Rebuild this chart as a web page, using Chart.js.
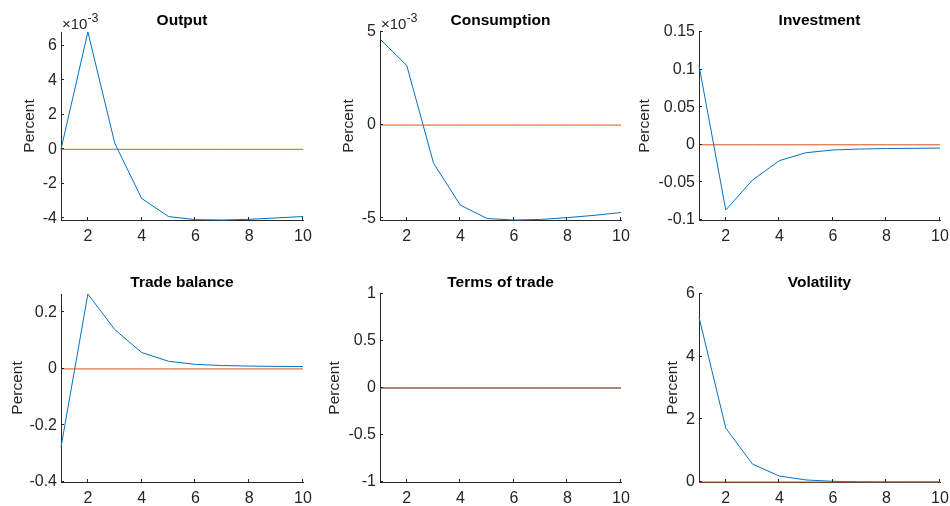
<!DOCTYPE html>
<html>
<head>
<meta charset="utf-8">
<script src="https://cdn.jsdelivr.net/npm/chart.js@4.4.0/dist/chart.umd.min.js"></script>
<style>
html,body{margin:0;padding:0;background:#ffffff;width:950px;height:506px;overflow:hidden;}
canvas{position:absolute;display:block;}
</style>
</head>
<body>
<canvas id="c1" width="320" height="253" style="left:0px;top:0px;width:320px;height:253px"></canvas>
<canvas id="c2" width="320" height="253" style="left:320px;top:0px;width:320px;height:253px"></canvas>
<canvas id="c3" width="320" height="253" style="left:630px;top:0px;width:320px;height:253px"></canvas>
<canvas id="c4" width="320" height="244" style="left:0px;top:262px;width:320px;height:244px"></canvas>
<canvas id="c5" width="320" height="244" style="left:320px;top:262px;width:320px;height:244px"></canvas>
<canvas id="c6" width="320" height="244" style="left:630px;top:262px;width:320px;height:244px"></canvas>
<script>
// ---------- data ----------
const periods = [1, 2, 3, 4, 5, 6, 7, 8, 9, 10];
const xTickValues = [2, 4, 6, 8, 10];
const panelTitles = ['Output', 'Consumption', 'Investment', 'Trade balance', 'Terms of trade', 'Volatility'];
const yAxisLabel = 'Percent';

const outputIRF      = [0, 0.0068, 0.00035, -0.00285, -0.0039, -0.00408, -0.0041, -0.00406, -0.00398, -0.0039];
const consumptionIRF = [0.00462, 0.0032, -0.00205, -0.0043, -0.00502, -0.0051, -0.00507, -0.00497, -0.00485, -0.0047];
const investmentIRF  = [0.1055, -0.0867, -0.0468, -0.0211, -0.0105, -0.0069, -0.0056, -0.005, -0.0047, -0.0043];
const tradeBalanceIRF = [-0.277, 0.265, 0.139, 0.058, 0.027, 0.016, 0.012, 0.010, 0.009, 0.0085];
const termsOfTradeIRF = [0, 0, 0, 0, 0, 0, 0, 0, 0, 0];
const volatilityIRF  = [5.26, 1.72, 0.57, 0.19, 0.065, 0.022, 0.0075, 0.0025, 0.0008, 0.0003];
const zeroLine       = [0, 0, 0, 0, 0, 0, 0, 0, 0, 0];

const yTicksOutput      = [-0.004, -0.002, 0, 0.002, 0.004, 0.006];
const yTicksConsumption = [-0.005, 0, 0.005];
const yTicksInvestment  = [-0.1, -0.05, 0, 0.05, 0.1, 0.15];
const yTicksTrade       = [-0.4, -0.2, 0, 0.2];
const yTicksTerms       = [-1, -0.5, 0, 0.5, 1];
const yTicksVolatility  = [0, 2, 4, 6];

const yLimOutput      = [-0.0041, 0.0068];
const yLimConsumption = [-0.0051, 0.005];
const yLimInvestment  = [-0.1, 0.15];
const yLimTrade       = [-0.4, 0.265];
const yLimTerms       = [-1, 1];
const yLimVolatility  = [0, 6];

// ---------- style / layout ----------
const FONT = '"Liberation Sans", Arial, Helvetica, sans-serif';
const AX = '#262626';
const BLUE = '#0072BD';
const ORANGE = '#D95319';
Chart.defaults.font.family = FONT;

const matlabAxes = {
  id: 'matlabAxes',
  afterDatasetsDraw(chart, args, opts) {
    const {ctx, chartArea: a} = chart;
    const xs = chart.scales.x, ys = chart.scales.y;
    ctx.save();
    ctx.strokeStyle = AX;
    ctx.lineWidth = 1;
    ctx.beginPath();
    xs.ticks.forEach(t => {
      const px = Math.round(xs.getPixelForValue(t.value)) - 0.5;
      ctx.moveTo(px, a.bottom);
      ctx.lineTo(px, a.bottom - 3);
    });
    ys.ticks.forEach(t => {
      const py = Math.round(ys.getPixelForValue(t.value)) - 0.5;
      ctx.moveTo(a.left, py);
      ctx.lineTo(a.left + 3, py);
    });
    ctx.stroke();
    if (opts.exponent) {
      ctx.fillStyle = AX;
      ctx.textBaseline = 'alphabetic';
      ctx.textAlign = 'left';
      ctx.font = '15px ' + FONT;
      const base = '\u00D710';
      ctx.fillText(base, a.left + 1, a.top - 3.5);
      const w = ctx.measureText(base).width;
      ctx.font = '12.5px ' + FONT;
      ctx.fillText(opts.exponent, a.left + 1 + w, a.top - 10.5);
    }
    ctx.restore();
  }
};

function fmt(v, factor) {
  return String(+(v * factor).toFixed(6));
}

function makePanel(id, title, values, yTicks, yLim, opt) {
  const factor = opt.exponent ? 1000 : 1;
  new Chart(document.getElementById(id), {
    type: 'line',
    data: {
      datasets: [
        {data: periods.map((p, i) => ({x: p, y: zeroLine[i]})), borderColor: ORANGE, borderWidth: 1, pointRadius: 0, tension: 0, clip: 2},
        {data: periods.map((p, i) => ({x: p, y: values[i]})), borderColor: BLUE, borderWidth: 1, pointRadius: 0, tension: 0, clip: 2}
      ]
    },
    options: {
      responsive: false,
      animation: false,
      devicePixelRatio: 1,
      events: [],
      layout: {padding: {left: 0, right: opt.padRight, top: 0, bottom: 0}},
      plugins: {
        legend: {display: false},
        tooltip: {enabled: false},
        title: {
          display: true, text: title, fullSize: false, color: '#000000',
          font: {family: FONT, size: 15.5, weight: 'bold', lineHeight: 1.2},
          padding: {top: 11.3, bottom: 2.1}
        },
        matlabAxes: {exponent: opt.exponent || null}
      },
      scales: {
        x: {
          type: 'linear', min: 1, max: 10,
          afterBuildTicks: s => { s.ticks = xTickValues.map(v => ({value: v})); },
          afterFit: s => { s.height = opt.xHeight; s.paddingLeft = 0; s.paddingRight = 0; },
          grid: {display: true, drawOnChartArea: false, drawTicks: false},
          border: {display: true, color: AX, width: 1},
          ticks: {color: AX, font: {family: FONT, size: 16, lineHeight: 1.2}, padding: 6.6, maxRotation: 0, autoSkip: false,
                  callback: v => String(v)}
        },
        y: {
          type: 'linear', min: yLim[0], max: yLim[1],
          afterBuildTicks: s => { s.ticks = yTicks.map(v => ({value: v})); },
          afterFit: s => { s.width = opt.yWidth; s.paddingTop = 0; s.paddingBottom = 0; },
          grid: {display: true, drawOnChartArea: false, drawTicks: false},
          border: {display: true, color: AX, width: 1},
          ticks: {color: AX, font: {family: FONT, size: 16}, padding: 4, autoSkip: false,
                  callback: v => fmt(v, factor)},
          title: {display: true, text: yAxisLabel, color: AX, font: {family: FONT, size: 15.5, lineHeight: 1.2},
                  padding: {top: opt.titlePad, bottom: 0}}
        }
      }
    },
    plugins: [matlabAxes]
  });
}

makePanel('c1', panelTitles[0], outputIRF, yTicksOutput, yLimOutput,
  {exponent: '-3', yWidth: 61, padRight: 17, xHeight: 33, titlePad: 20.5});
makePanel('c2', panelTitles[1], consumptionIRF, yTicksConsumption, yLimConsumption,
  {exponent: '-3', yWidth: 60, padRight: 19, xHeight: 33, titlePad: 19});
makePanel('c3', panelTitles[2], investmentIRF, yTicksInvestment, yLimInvestment,
  {yWidth: 69, padRight: 10, xHeight: 33, titlePad: 5.7});
makePanel('c4', panelTitles[3], tradeBalanceIRF, yTicksTrade, yLimTrade,
  {yWidth: 61, padRight: 17, xHeight: 24, titlePad: 8.2});
makePanel('c5', panelTitles[4], termsOfTradeIRF, yTicksTerms, yLimTerms,
  {yWidth: 60, padRight: 19, xHeight: 24, titlePad: 5.7});
makePanel('c6', panelTitles[5], volatilityIRF, yTicksVolatility, yLimVolatility,
  {yWidth: 69, padRight: 10, xHeight: 24, titlePad: 33.4});
</script>
</body>
</html>
